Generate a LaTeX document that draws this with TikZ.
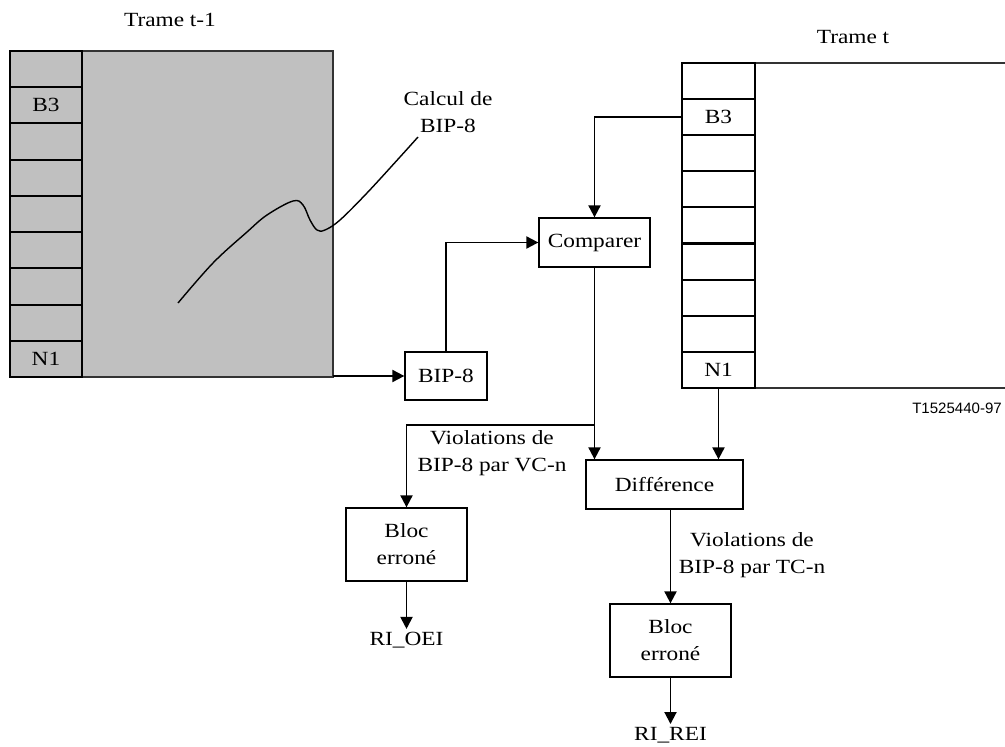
\documentclass[tikz,border=0pt]{standalone}
\usepackage{fontspec}
\setmainfont{Liberation Serif}[FakeStretch=1.16]
\setsansfont{Liberation Sans}
\usetikzlibrary{arrows.meta}

\definecolor{framegray}{HTML}{C0C0C0}

\begin{document}
\begin{tikzpicture}[
		x=0.025cm, y=-0.025cm,
		every node/.style={font=\fontsize{14.3}{19.2}\selectfont, align=center},
		box/.style={rectangle, draw, line width=0.9pt, inner sep=0pt},
		cell/.style={rectangle, draw, line width=1.4pt, minimum width=1.8cm, minimum height=0.905cm, inner sep=0pt},
		arr/.style={line width=1.4pt, -{Triangle[length=0.3cm, width=0.3cm]}}
	]
  \useasboundingbox (0,0) rectangle (1005,747);

  % trame t-1
  \node (prev_title) at (170,20) {Trame t-1};
  \draw[fill=framegray, draw=black!80, line width=0.8pt] (10,51) rectangle (333,377);
  \foreach \i in {0,...,8}
    \node (prev_\i) [cell] at (46, 69.1+\i*36.22) {};
  \node (prev_b3) at (prev_1) {B3};
  \node (prev_n1) at (prev_8) {N1};
  \coordinate (prev_corner) at (333,376);

  % trame t
  \node (cur_title) at (853,37) {Trame t};
  \draw[draw=black!80, line width=0.8pt] (1005,63) -- (682,63) -- (682,388) -- (1005,388);
  \foreach \i in {0,...,8}
    \node (cur_\i) [cell, minimum width=1.825cm] at (718.5, 81.05+\i*36.1) {};
  \node (cur_b3) at (cur_1) {B3};
  \node (cur_n1) at (cur_8) {N1};

  % calcul
  \node (calc_label) at (448,112.5) {Calcul de\\BIP-8};
  \draw[line width=1pt] plot[smooth, tension=0.6] coordinates {(178,303) (213,263) (247,232) (267,215) (293,201) (303,205) (310,220) (317,230) (325,230) (340,220) (367,193) (400,157) (418,137)};

  \node (bip) [box, minimum width=2.05cm, minimum height=1.2cm] at (446,376) {BIP-8};
  \node (cmp) [box, minimum width=2.775cm, minimum height=1.225cm] at (594.5,242.5) {Comparer};
  \node (diff) [box, minimum width=3.925cm, minimum height=1.225cm] at (664.5,484.5) {Différence};
  \node (bloc_a) [box, minimum width=3.025cm, minimum height=1.825cm] at (406.5,544.5) {Bloc\\erroné};
  \node (bloc_b) [box, minimum width=3.025cm, minimum height=1.825cm] at (670.5,640.5) {Bloc\\erroné};
  \node (ri_oei) [inner sep=2pt] at (406.5,640) {RI\_OEI};
  \node (ri_rei) [inner sep=2pt] at (670.5,735) {RI\_REI};
  \node (viol_vc) at (492,453.5) {Violations de\\BIP-8 par VC-n};
  \node (viol_tc) at (752,555) {Violations de\\BIP-8 par TC-n};
  \node (fig_ref) [font=\sffamily\fontsize{10.7}{12}\selectfont] at (957,408) {T1525440-97};

  \coordinate (split_lvl) at (0,425);
  \coordinate (split) at (cmp.south |- split_lvl);

  \draw[arr] (prev_corner) -- (bip.west);
  \draw[arr] (bip.north) |- (cmp.west);
  \draw[arr] (cur_1.west) -| (cmp.north);
  \draw[line width=1.4pt] (cmp.south) -- (split);
  \draw[arr] (split) -- (split |- diff.north);
  \draw[arr] (split) -| (bloc_a.north);
  \draw[arr] (cur_8.south) -- (cur_8.south |- diff.north);
  \draw[arr] (bloc_b.north |- diff.south) -- (bloc_b.north);
  \draw[arr] (bloc_a.south) -- (ri_oei.north);
  \draw[arr] (bloc_b.south) -- (ri_rei.north);
\end{tikzpicture}
\end{document}
